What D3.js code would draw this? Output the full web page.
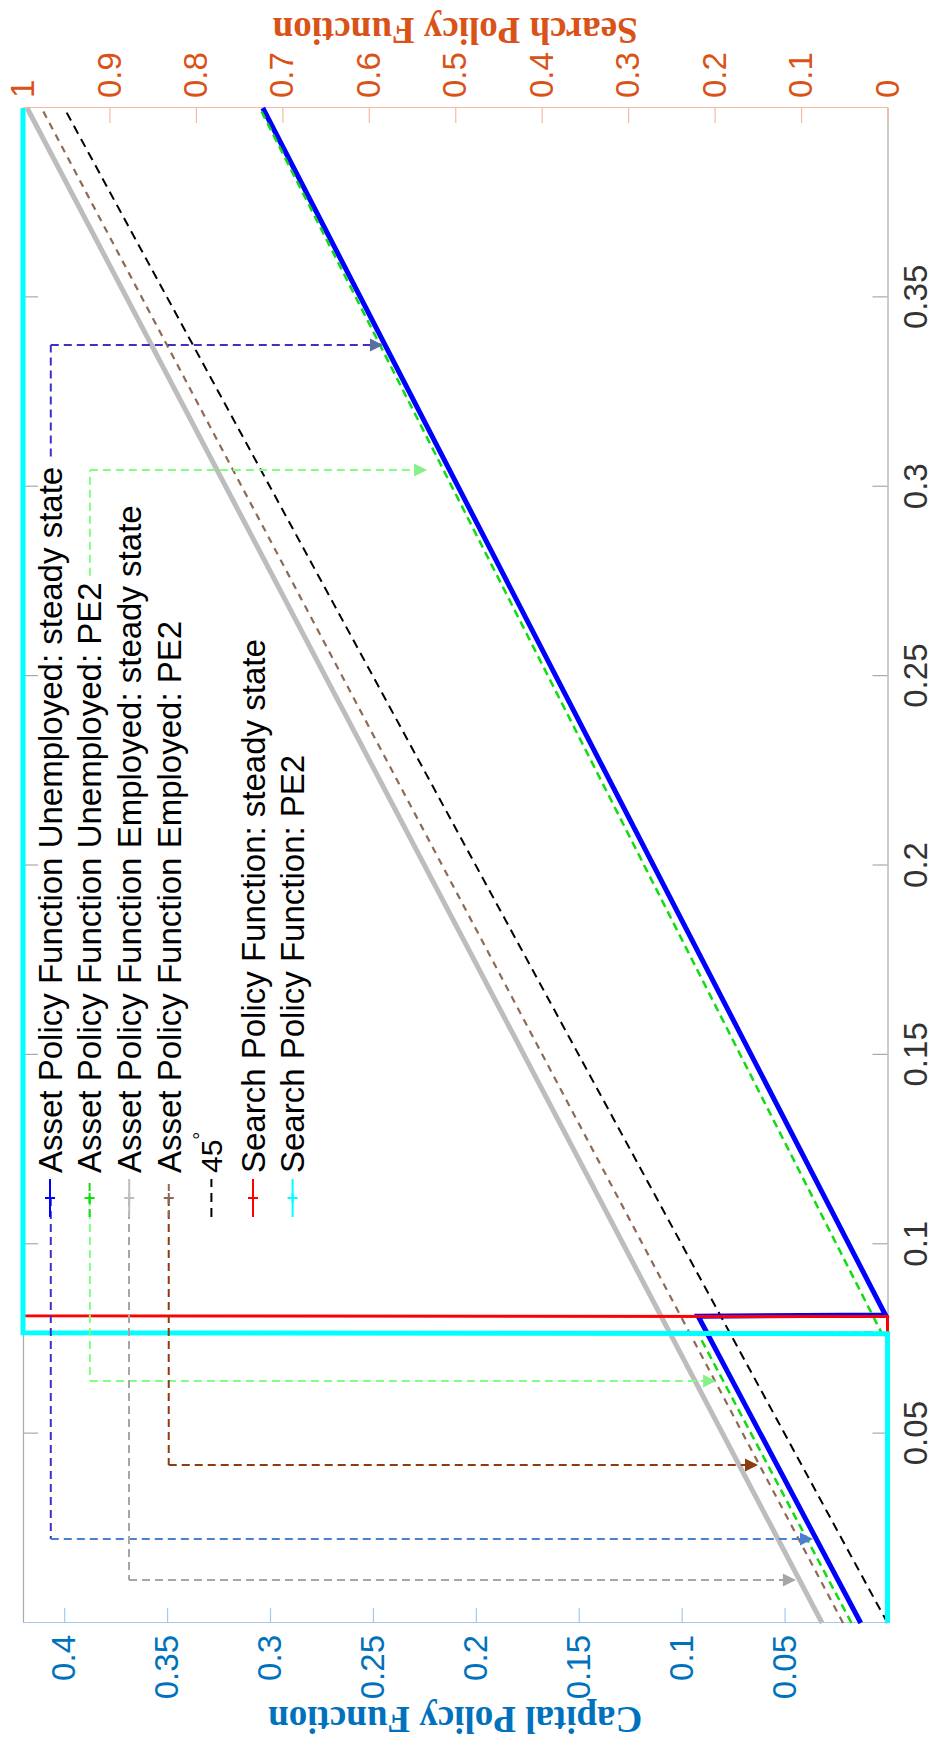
<!DOCTYPE html>
<html><head><meta charset="utf-8">
<script src="https://cdn.jsdelivr.net/npm/d3@7"></script>
<style>body{margin:0;background:#fff}svg{display:block}</style>
</head><body>
<svg id="chart" width="935" height="1739"></svg>
<script>
// ---------------- data ----------------
const xTicks = [0.05, 0.1, 0.15, 0.2, 0.25, 0.3, 0.35];
const capitalTicks = [0.05, 0.1, 0.15, 0.2, 0.25, 0.3, 0.35, 0.4];
const searchTicks = [0, 0.1, 0.2, 0.3, 0.4, 0.5, 0.6, 0.7, 0.8, 0.9, 1];
const xDomain = [0, 0.4];
const capitalDomain = [0, 0.42];
const searchDomain = [0, 1];

// [asset today, policy value]
const assetUnempSS  = [[0, 0.013], [0.0810, 0.092], [0.0813, 0.001], [0.4, 0.3035]];
const assetUnempPE2 = [[0, 0.0175], [0.0764, 0.092], [0.0767, 0.003], [0.4, 0.305]];
const assetEmpSS    = [[0, 0.0318], [0.4, 0.418]];
const assetEmpPE2   = [[0, 0.0216], [0.4, 0.411]];
const line45        = [[0, 0], [0.4, 0.4]];
const searchSS      = [[0, 0], [0.0809, 0], [0.0811, 1], [0.4, 1]];
const searchPE2     = [[0, 0], [0.0764, 0], [0.0766, 1], [0.4, 1]];

const legendLabels = [
  'Asset Policy Function Unemployed: steady state',
  'Asset Policy Function Unemployed: PE2',
  'Asset Policy Function Employed: steady state',
  'Asset Policy Function Employed: PE2',
  '45',
  'Search Policy Function: steady state',
  'Search Policy Function: PE2'
];

// annotation arrows, in data units [x, capital]
const arrowBlueTop     = [[0.308, 0.4065], [0.3374, 0.4065], [0.3374, 0.2451]];
const arrowBlueBottom  = [[0.1122, 0.4065], [0.0222, 0.4065], [0.0222, 0.0362]];
const arrowGreenTop    = [[0.2765, 0.3875], [0.3044, 0.3875], [0.3044, 0.2237]];
const arrowGreenBottom = [[0.1122, 0.3875], [0.0639, 0.3875], [0.0639, 0.0833]];
const arrowGrayBottom  = [[0.1122, 0.3685], [0.01135, 0.3685], [0.01135, 0.0445]];
const arrowBrownBottom = [[0.1122, 0.3492], [0.0417, 0.3492], [0.0417, 0.0629]];

// ---------------- layout / style ----------------
const W = 1739;               // long side (drawn rotated)
const X0 = 116, X1 = 1631, Y0 = 23, Y1 = 887.5;
const sans = "'Liberation Sans', Arial, Helvetica, sans-serif";
const serif = "'Liberation Serif', 'Times New Roman', serif";
const tickFs = 33;

const svg = d3.select('#chart');
svg.append('rect').attr('width', 935).attr('height', 1739).attr('fill', '#fff');
const g = svg.append('g').attr('transform', `translate(0,${W}) rotate(-90)`);

const x = d3.scaleLinear().domain(xDomain).range([X0, X1]);
const yC = d3.scaleLinear().domain(capitalDomain).range([Y1, Y0]);
const yS = d3.scaleLinear().domain(searchDomain).range([Y1, Y0]);
const fmt = d => String(+(+d).toFixed(2));

function styleAxis(sel, lineColor, textColor) {
  sel.select('.domain').attr('stroke', lineColor).attr('stroke-width', 1.2);
  sel.selectAll('.tick line').attr('stroke', lineColor).attr('stroke-width', 1.2);
  sel.selectAll('.tick text').attr('fill', textColor)
    .style('font-family', sans).style('font-size', tickFs + 'px');
}

// box top (gray)
const gTop = g.append('g').attr('transform', `translate(0,${Y0})`)
  .call(d3.axisTop(x).tickValues(xTicks).tickSizeInner(-15).tickSizeOuter(0).tickFormat(''));
styleAxis(gTop, '#aaaaaa', '#333');

// x axis
const gX = g.append('g').attr('transform', `translate(0,${Y1})`)
  .call(d3.axisBottom(x).tickValues(xTicks).tickSizeInner(-15).tickSizeOuter(0).tickPadding(16).tickFormat(fmt));
styleAxis(gX, '#aaaaaa', '#333333');

// left (capital)
const gL = g.append('g').attr('transform', `translate(${X0},0)`)
  .call(d3.axisLeft(yC).tickValues(capitalTicks).tickSizeInner(-15).tickSizeOuter(0).tickPadding(12).tickFormat(fmt));
styleAxis(gL, '#a6c9ea', '#0072bd');

// right (search)
const gR = g.append('g').attr('transform', `translate(${X1},0)`)
  .call(d3.axisRight(yS).tickValues(searchTicks).tickSizeInner(-15).tickSizeOuter(0).tickPadding(10).tickFormat(fmt));
styleAxis(gR, '#f3bba5', '#d95319');

// axis titles
g.append('text').attr('transform', `translate(32,${(Y0 + Y1) / 2}) rotate(-90)`)
  .attr('text-anchor', 'middle').attr('fill', '#0072bd')
  .style('font-family', serif).style('font-weight', 'bold').style('font-size', '37px')
  .text('Capital Policy Function');
g.append('text').attr('transform', `translate(1721,${(Y0 + Y1) / 2}) rotate(-90)`)
  .attr('text-anchor', 'middle').attr('fill', '#d95319')
  .style('font-family', serif).style('font-weight', 'bold').style('font-size', '37px')
  .text('Search Policy Function');

// ---------------- series ----------------
const lineC = d3.line().x(d => x(d[0])).y(d => yC(d[1]));
const lineS = d3.line().x(d => x(d[0])).y(d => yS(d[1]));

const series = [
  { data: assetEmpSS,    gen: lineC, color: '#bdbdbd', w: 5,   dash: null,  legend: 2 },
  { data: assetEmpPE2,   gen: lineC, color: '#8c6a55', w: 2.2, dash: '7,6', legend: 3 },
  { data: line45,        gen: lineC, color: '#000000', w: 2,   dash: '9,6', legend: 4 },
  { data: assetUnempSS,  gen: lineC, color: '#0000ff', w: 5,   dash: null,  legend: 0 },
  { data: assetUnempPE2, gen: lineC, color: '#10dd10', w: 2.5, dash: '8,5', legend: 1 },
  { data: searchSS,      gen: lineS, color: '#ff0000', w: 3,   dash: null,  legend: 5 },
  { data: searchPE2,     gen: lineS, color: '#00ffff', w: 5,   dash: null,  legend: 6 }
];

series.forEach(s => {
  g.append('path').attr('d', s.gen(s.data)).attr('fill', 'none')
    .attr('stroke', s.color).attr('stroke-width', s.w)
    .attr('stroke-dasharray', s.dash).attr('stroke-linejoin', 'miter');
});

// ---------------- annotation arrows ----------------
const arrows = [
  { pts: arrowBlueTop,     colors: ['#3b31c6', '#3b31c6'], head: '#5a6ea6' },
  { pts: arrowBlueBottom,  colors: ['#3b31c6', '#4b7fd0'], head: '#4b7fd0' },
  { pts: arrowGreenTop,    colors: ['#80ff80', '#80ff80'], head: '#88f088' },
  { pts: arrowGreenBottom, colors: ['#80ff80', '#80ff80'], head: '#88f088' },
  { pts: arrowGrayBottom,  colors: ['#a6a6a6', '#a6a6a6'], head: '#a6a6a6' },
  { pts: arrowBrownBottom, colors: ['#8b3d10', '#8b3d10'], head: '#8b3d10' }
];
arrows.forEach(a => {
  const p = a.pts.map(d => [x(d[0]), yC(d[1])]);
  for (let i = 0; i < p.length - 1; i++) {
    let end = p[i + 1];
    if (i === p.length - 2) {
      const dx = end[0] - p[i][0], dy = end[1] - p[i][1], L = Math.hypot(dx, dy);
      end = [end[0] - dx / L * 12, end[1] - dy / L * 12];
    }
    g.append('line').attr('x1', p[i][0]).attr('y1', p[i][1]).attr('x2', end[0]).attr('y2', end[1])
      .attr('stroke', a.colors[i]).attr('stroke-width', 2).attr('stroke-dasharray', '8,5');
  }
  const tip = p[p.length - 1], prev = p[p.length - 2];
  const dx = tip[0] - prev[0], dy = tip[1] - prev[1], L = Math.hypot(dx, dy);
  const ux = dx / L, uy = dy / L, len = 13, hw = 6.5;
  const bx = tip[0] - ux * len, by = tip[1] - uy * len;
  g.append('path')
    .attr('d', `M${tip[0]},${tip[1]}L${bx - uy * hw},${by + ux * hw}L${bx + uy * hw},${by - ux * hw}Z`)
    .attr('fill', a.head);
});

// ---------------- legend ----------------
const legTextX = 566, iconX0 = 522, iconX1 = 560, markX = 541;
const legCenter = i => 50 + i * 39.6 + (i === 4 ? 3 : i > 4 ? 5 : 0);
series.forEach(s => {
  const i = s.legend, cy = legCenter(i);
  g.append('line').attr('x1', iconX0).attr('x2', iconX1).attr('y1', cy).attr('y2', cy)
    .attr('stroke', s.color).attr('stroke-width', 2).attr('stroke-dasharray', s.dash);
  if (i !== 4) {
    g.append('path').attr('d', `M${markX - 5},${cy}h10M${markX},${cy - 5}v10`)
      .attr('stroke', s.color).attr('stroke-width', 2);
  }
  const t = g.append('text').attr('x', legTextX).attr('y', cy + (i === 4 ? 10.5 : 11.8))
    .attr('fill', '#000').style('font-family', sans).style('font-size', (i === 4 ? 30 : 33) + 'px');
  if (i === 4) {
    t.append('tspan').text(legendLabels[i]);
    t.append('tspan').attr('dy', -14).style('font-size', '20px').text('\u00B0');
  } else {
    t.text(legendLabels[i]);
  }
});
</script>
</body></html>
